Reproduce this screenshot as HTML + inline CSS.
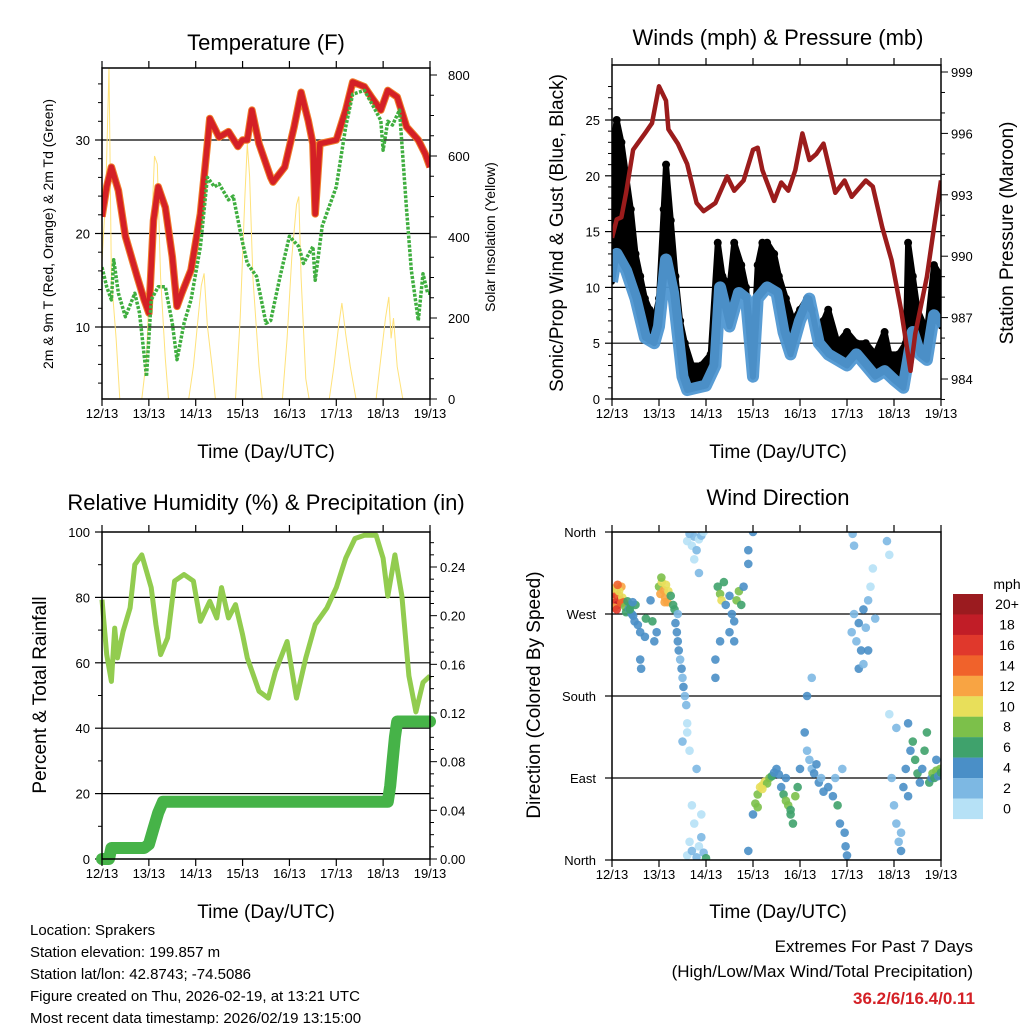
<!DOCTYPE html>
<html><head><meta charset="utf-8"><style>
html,body{margin:0;padding:0;background:#fff;}
svg{display:block;font-family:"Liberation Sans",Arial,sans-serif;}
</style></head><body>
<svg id="root" width="1024" height="1024" viewBox="0 0 1024 1024" xmlns="http://www.w3.org/2000/svg"></svg>
<script>
// ===== Data =====
const dayLabels = ["12/13","13/13","14/13","15/13","16/13","17/13","18/13","19/13"];
// Temperature (F)
const tempT = [0,0.1,0.2,0.35,0.5,0.75,0.9,1.0,1.1,1.2,1.35,1.5,1.6,1.7,1.9,2.1,2.25,2.3,2.5,2.7,2.9,3.0,3.1,3.2,3.35,3.6,3.65,3.9,4.1,4.25,4.4,4.5,4.55,4.65,5.0,5.2,5.35,5.6,5.75,5.95,6.1,6.3,6.5,6.75,6.9,7.0];
const tempV = [21.8,25,27.1,24.6,19.7,15.4,12.9,11.5,21.4,25,22.8,17.5,12.2,13.6,16.1,22.1,29.6,32.3,30.3,30.9,29.3,30,30,33.2,29.6,26,25.5,27.1,31.4,35.1,32.1,29.6,22.1,29.6,30,33.2,36.2,35.7,34.6,33.2,35.3,34.6,31.4,30,28.5,27.1];
const dewT = [0,0.1,0.2,0.25,0.35,0.5,0.7,0.8,0.95,1.05,1.2,1.35,1.5,1.6,1.75,1.9,2.1,2.25,2.4,2.5,2.7,2.8,3.0,3.1,3.3,3.5,3.6,3.8,4.0,4.2,4.3,4.5,4.55,4.7,5.0,5.2,5.35,5.6,5.8,5.95,6.0,6.1,6.2,6.35,6.5,6.6,6.75,6.85,6.95,7.0];
const dewV = [16.4,14.3,12.9,17.2,13.6,11.1,13.6,11.5,4.7,12.9,14.3,14.3,10.4,6.5,10.4,12.9,18.6,26,25,25.3,23.6,24,19,16.8,15.4,10.4,10.7,15.4,19.7,18.6,16.8,18.6,15,20.8,25,31.4,34.9,35.3,33.5,32.1,28.9,32,31.6,33.2,22.5,16.1,10.7,15.7,13.6,13.6];
const solarT = [0,0.08,0.15,0.2,0.3,0.38,0.85,0.95,1.05,1.12,1.18,1.25,1.35,1.42,1.85,1.95,2.05,2.12,2.18,2.25,2.35,2.42,2.85,2.95,3.05,3.1,3.15,3.22,3.35,3.42,3.85,3.95,4.05,4.15,4.2,4.25,4.35,4.42,4.85,4.95,5.05,5.12,5.2,5.3,5.42,5.85,5.95,6.05,6.12,6.17,6.22,6.3,6.42,7.0];
const solarV = [340,500,820,300,150,0,0,100,400,600,580,300,100,0,0,80,200,280,310,180,80,0,0,200,500,630,550,300,80,0,0,150,350,480,500,300,50,0,0,80,180,237,160,80,0,0,100,200,252,150,200,80,0,0];
// Winds & pressure
const presT = [0,0.1,0.2,0.3,0.45,0.7,0.85,1.0,1.15,1.2,1.4,1.6,1.8,1.95,2.2,2.45,2.6,2.8,3.0,3.1,3.2,3.45,3.6,3.75,3.9,4.05,4.2,4.35,4.5,4.75,4.95,5.1,5.4,5.55,5.75,5.95,6.15,6.35,6.45,6.7,6.85,7.0];
const presV = [990.9,991.8,991.9,993.1,995.2,996,996.5,998.3,997.6,996.2,995.5,994.5,992.6,992.2,992.6,993.9,993.2,993.7,995.2,995.3,994.2,992.7,993.6,993.2,994.2,996,994.7,995,995.5,993.1,993.7,992.9,993.7,993.4,991.4,989.8,987.4,984.4,986.2,989,991.4,993.7];
const windT = [0,0.1,0.3,0.5,0.7,0.9,1.0,1.15,1.3,1.5,1.6,1.8,2.0,2.2,2.3,2.5,2.7,2.85,3.0,3.1,3.3,3.5,3.65,3.8,4.0,4.2,4.4,4.6,4.8,5.0,5.2,5.4,5.6,5.8,6.0,6.2,6.4,6.55,6.7,6.85,7.0];
const windV = [10.5,13,11.5,9,5.5,5,6.5,12.5,9.5,2,0.8,1,1.2,3,10,6.5,9.5,9,2,9,10,9.5,6,4,7,9,5,4,3.5,3,4,3,2,2.5,1.7,1,6,4,3.5,7.5,6.5];
const gustT = [0,0.1,0.2,0.3,0.4,0.5,0.6,0.7,0.8,0.9,1.0,1.1,1.15,1.25,1.35,1.45,1.55,1.7,1.9,2.1,2.25,2.35,2.5,2.6,2.75,2.85,3.0,3.1,3.2,3.3,3.45,3.55,3.7,3.85,4.0,4.15,4.25,4.4,4.5,4.6,4.8,5.0,5.2,5.4,5.6,5.8,5.9,6.1,6.25,6.3,6.4,6.5,6.7,6.85,7.0];
const gustV = [22,25,23,20,17,13,11,9,8,7,9,17,21,16,11,7,5,3,3,4,14,11,10,14,12,10,4,12,14,14,13,11,9,7,8,9,8,5,7,8,5,6,5,5,4,6,4,4,5,14,11,8,6,12,11];
// RH & precipitation
const rhT = [0,0.1,0.2,0.27,0.33,0.45,0.6,0.7,0.85,0.95,1.05,1.15,1.25,1.4,1.55,1.75,1.95,2.1,2.3,2.45,2.55,2.7,2.85,3.0,3.1,3.35,3.55,3.7,3.95,4.15,4.35,4.55,4.8,5.0,5.2,5.4,5.6,5.85,6.0,6.1,6.25,6.4,6.55,6.7,6.85,7.0];
const rhV = [79.3,62.5,54.3,70.6,61.5,69.6,76.8,90,93,88,83,71.7,62.5,67.6,85,87,85,72.7,78.8,73.7,83,73.7,77.8,68.6,61.5,51.3,49.2,57.3,66.5,49.2,61.5,71.7,76.8,83,92,98,99,99,92,80.4,93,80.4,56,45,54,56];
const rainT = [0,0.15,0.2,0.9,1.0,1.1,1.2,1.3,6.1,6.15,6.2,6.25,6.3,7.0];
const rainV = [0,0,0.009,0.009,0.012,0.025,0.038,0.047,0.047,0.06,0.08,0.1,0.113,0.113];
// Wind direction
const dirT = [0.02,0.05,0.08,0.1,0.12,0.15,0.18,0.2,0.22,0.25,0.05,0.1,0.15,0.2,0.03,0.12,
0.28,0.3,0.33,0.36,0.4,0.42,0.45,0.48,0.5,0.38,0.44,
0.55,0.6,0.6,0.62,0.7,0.72,0.9,0.95,0.82,0.86,
1.0,1.03,1.06,1.1,1.13,1.15,1.18,1.2,1.05,1.12,1.25,1.3,1.33,
1.35,1.38,1.4,1.42,1.45,1.48,1.5,1.52,1.55,1.58,1.6,1.4,1.5,
1.6,1.65,1.7,1.75,1.8,1.85,1.9,1.95,1.75,1.85,
1.6,1.65,1.7,1.75,1.8,1.85,1.9,1.95,2.0,1.7,1.8,1.9,1.6,1.65,
2.25,2.3,2.33,2.38,2.42,2.5,2.55,2.6,2.65,2.7,2.75,2.8,2.5,2.6,2.3,2.2,2.2,2.9,2.9,3.0,2.9,
3.0,3.05,3.1,3.15,3.2,3.25,3.3,3.35,3.4,3.45,3.5,3.55,3.1,3.2,
3.6,3.65,3.7,3.75,3.8,3.85,3.9,3.95,4.0,3.7,3.8,
4.1,4.15,4.2,4.25,4.3,4.35,4.4,4.45,4.5,4.6,4.7,4.75,4.8,4.85,4.9,4.15,4.25,
4.95,4.97,5.0,
5.1,5.15,5.2,5.25,5.3,5.35,5.4,5.45,5.5,5.55,5.6,5.25,5.35,5.45,
5.12,5.15,5.85,5.9,
5.9,5.95,6.0,6.05,6.1,6.15,6.2,6.25,6.3,6.35,6.4,6.45,6.5,6.55,6.6,6.65,6.7,6.75,6.8,6.05,6.15,6.3,
6.82,6.86,6.9,6.94,6.98,7.0,6.9];
const dirDeg = [287,292,283,296,280,290,285,300,288,283,277,275,295,282,298,302,
278,272,284,276,280,270,268,262,280,275,283,
258,250,220,210,245,265,240,250,285,262,
300,292,305,296,288,302,283,295,310,283,290,280,275,
260,250,240,230,220,210,200,190,180,170,150,270,130,
350,358,345,355,340,352,356,360,330,315,
5,20,10,40,3,15,25,8,2,60,100,50,140,120,
300,292,285,305,280,290,270,262,285,295,280,300,250,240,240,220,200,340,325,360,10,
50,62,72,80,82,86,84,90,92,96,100,94,58,78,
80,72,65,60,50,40,70,80,100,90,55,
140,120,110,100,95,105,85,90,75,80,70,90,60,40,100,180,200,
30,15,5,
250,270,240,260,230,275,255,285,300,320,265,210,215,230,
358,345,350,335,
160,90,60,40,20,10,80,100,70,120,130,110,95,85,100,120,140,85,90,145,30,150,
95,90,98,92,100,96,110];
const dirSpd = [12,16,17,14,18,15,16,13,10,14,12,17,11,15,10,14,
8,6,6,4,6,5,4,4,6,7,5,
4,4,4,4,4,6,4,4,4,6,
8,12,10,12,12,11,12,10,9,13,7,6,6,
4,4,4,4,2,4,2,4,2,2,0,2,2,
0,2,0,2,2,0,2,0,0,2,
0,0,2,0,2,0,2,2,6,0,2,0,0,0,
6,8,10,6,4,4,4,4,8,8,6,4,4,4,4,4,4,4,4,4,4,
4,8,8,10,10,10,8,8,6,4,4,4,8,10,
4,6,8,8,6,6,8,6,4,4,6,
4,2,2,2,4,4,4,2,4,4,4,2,6,4,2,4,2,
4,4,4,
2,2,2,4,4,4,2,2,0,0,2,4,2,4,
2,2,2,0,
0,2,2,2,2,4,4,4,4,4,6,6,6,4,4,6,6,6,4,2,2,4,
8,6,8,4,8,6,4];
const cbarLabels = ["20+","18","16","14","12","10","8","6","4","2","0"];
const cbarColors = ["#9b1b1f","#c11d27","#e0382c","#f0622b","#f8a443","#e8df5a","#7cc04a","#3fa26c","#4a8fc7","#7db8e3","#b6e1f6"];

// ===== Helpers =====
const NS="http://www.w3.org/2000/svg";
const root=document.getElementById('root');
function mk(tag,attrs,parent){const e=document.createElementNS(NS,tag);for(const k in attrs)e.setAttribute(k,attrs[k]);(parent||root).appendChild(e);return e;}
function txt(s,x,y,size,anchor,parent,extra){const e=mk('text',Object.assign({x:x,y:y,'font-size':size,'text-anchor':anchor||'middle',fill:'#000'},extra||{}),parent);e.textContent=s;return e;}
function lin(d0,d1,r0,r1){return v=>r0+(v-d0)/(d1-d0)*(r1-r0);}
function pts(xs,ys,fx,fy){return xs.map((t,i)=>fx(t).toFixed(1)+','+fy(ys[i]).toFixed(1)).join(' ');}

function frame(g,L,T,R,B){
  const r=mk('rect',{x:L,y:T,width:R-L,height:B-T,fill:'none',stroke:'#000','stroke-width':1.5},g);
  
  
}
function xAxis(g,L,R,B,T){
  const fx=lin(0,7,L,R);
  dayLabels.forEach((s,i)=>{
    const x=fx(i);
    mk('line',{x1:x,y1:B,x2:x,y2:B+7,stroke:'#000','stroke-width':1.2},g);
    mk('line',{x1:x,y1:T,x2:x,y2:T-7,stroke:'#000','stroke-width':1.2},g);
    const t=txt(s,x,B+19,13,'middle',g);
    
    
  });
  return fx;
}

// ===== Panel 1: Temperature =====
(function(){
  const g=mk('g',{});
  
  
  const L=102,R=430,T=68,B=399;
  const fx=lin(0,7,L,R), fy=lin(10,30,327,140), fs=lin(0,800,399,75);
  const clip=mk('clipPath',{id:'c1'},g); mk('rect',{x:L,y:T,width:R-L,height:B-T},clip);
  [10,20,30].forEach(v=>{mk('line',{x1:L,y1:fy(v),x2:R,y2:fy(v),stroke:'#000','stroke-width':1.2},g);
    mk('line',{x1:L,y1:fy(v),x2:L-7,y2:fy(v),stroke:'#000','stroke-width':1.2},g);
    txt(String(v),L-12,fy(v)+5,13,'end',g);});
  for(let v=4;v<=36;v+=2){if(v%10)mk('line',{x1:L,y1:fy(v),x2:L-4,y2:fy(v),stroke:'#000','stroke-width':1},g);}
  for(let v=0;v<=800;v+=50){const maj=v%200===0;mk('line',{x1:R,y1:fs(v),x2:R+(maj?7:4),y2:fs(v),stroke:'#000','stroke-width':1},g);
    if(maj)txt(String(v),R+18,fs(v)+5,13,'start',g);}
  const d=mk('g',{'clip-path':'url(#c1)'},g);
  const s=mk('polyline',{points:pts(solarT,solarV,fx,fs),fill:'none',stroke:'#ffe27a','stroke-width':1},d);
   
  const o=mk('polyline',{points:pts(tempT,tempV,fx,fy),fill:'none',stroke:'#f07c2a','stroke-width':7.5,'stroke-linejoin':'round'},d);
   
  const r=mk('polyline',{points:pts(tempT,tempV,fx,fy),fill:'none',stroke:'#d42026','stroke-width':5.5,'stroke-linejoin':'round'},d);
   
  const gr=mk('polyline',{points:pts(dewT,dewV,fx,fy),fill:'none',stroke:'#3fae3f','stroke-width':3.5,'stroke-dasharray':'3 1.5','stroke-linejoin':'round'},d);
   
  frame(g,L,T,R,B); xAxis(g,L,R,B,T);
  const t1=txt('Temperature (F)',266,50,22,'middle',g);  
  const t2=txt('Time (Day/UTC)',266,458,19,'middle',g);  
  const t3=txt('2m & 9m T (Red, Orange) & 2m Td (Green)',0,0,14,'middle',g,{transform:'translate(53,234) rotate(-90)'});  
  const t4=txt('Solar Insolation (Yellow)',0,0,14,'middle',g,{transform:'translate(495,237) rotate(-90)'});  
})();

// ===== Panel 2: Winds =====
(function(){
  const g=mk('g',{});
  
  
  const L=612,R=941,T=65,B=399;
  const fx=lin(0,7,L,R), fy=lin(0,25,399,120), fp=lin(984,999,379,72);
  const clip=mk('clipPath',{id:'c2'},g); mk('rect',{x:L,y:T,width:R-L,height:B-T},clip);
  [0,5,10,15,20,25].forEach(v=>{if(v)mk('line',{x1:L,y1:fy(v),x2:R,y2:fy(v),stroke:'#000','stroke-width':1.2},g);
    mk('line',{x1:L,y1:fy(v),x2:L-7,y2:fy(v),stroke:'#000','stroke-width':1.2},g);
    txt(String(v),L-12,fy(v)+5,13,'end',g);});
  for(let v=1;v<29;v++){if(v%5)mk('line',{x1:L,y1:fy(v),x2:L-4,y2:fy(v),stroke:'#000','stroke-width':1},g);}
  for(let v=983;v<=999;v++){const maj=(v-984)%3===0;mk('line',{x1:R,y1:fp(v),x2:R+(maj?7:4),y2:fp(v),stroke:'#000','stroke-width':1},g);
    if(maj)txt(String(v),R+10,fp(v)+5,13,'start',g);}
  const d=mk('g',{'clip-path':'url(#c2)'},g);
  const band=pts(gustT,gustV,fx,fy)+' '+windT.slice().reverse().map((t,i)=>fx(t).toFixed(1)+','+fy(windV[windV.length-1-i]).toFixed(1)).join(' ');
  const bl=mk('polygon',{points:band,fill:'#000',stroke:'#000','stroke-width':6,'stroke-linejoin':'round'},d);
   
  gustT.forEach((t,i)=>{const c=mk('circle',{cx:fx(t),cy:fy(gustV[i]),r:4,fill:'#000'},d);
    
    });
  const w=mk('polyline',{points:pts(windT,windV,fx,fy),fill:'none',stroke:'#4f97d2','stroke-width':12,'stroke-linejoin':'round','opacity':0.95},d);
   
  const p=mk('polyline',{points:pts(presT,presV,fx,fp),fill:'none',stroke:'#9b1c1c','stroke-width':4.5,'stroke-linejoin':'round'},d);
   
  frame(g,L,T,R,B); xAxis(g,L,R,B,T);
  const t1=txt('Winds (mph) & Pressure (mb)',778,45,22,'middle',g);  
  const t2=txt('Time (Day/UTC)',778,458,19,'middle',g);  
  const t3=txt('Sonic/Prop Wind & Gust (Blue, Black)',0,0,19,'middle',g,{transform:'translate(563,233) rotate(-90)'});  
  const t4=txt('Station Pressure (Maroon)',0,0,19,'middle',g,{transform:'translate(1013,233) rotate(-90)'});  
})();

// ===== Panel 3: RH =====
(function(){
  const g=mk('g',{});
  
  
  const L=102,R=430,T=532,B=859;
  const fx=lin(0,7,L,R), fy=lin(0,100,859,532), fr=lin(0,0.24,859,567);
  const clip=mk('clipPath',{id:'c3'},g); mk('rect',{x:L-12,y:T,width:R-L+24,height:B-T+12},clip);
  [0,20,40,60,80,100].forEach(v=>{if(v&&v<100)mk('line',{x1:L,y1:fy(v),x2:R,y2:fy(v),stroke:'#000','stroke-width':1.2},g);
    mk('line',{x1:L,y1:fy(v),x2:L-7,y2:fy(v),stroke:'#000','stroke-width':1.2},g);
    txt(String(v),L-12,fy(v)+5,13,'end',g);});
  for(let v=10;v<100;v+=20)mk('line',{x1:L,y1:fy(v),x2:L-4,y2:fy(v),stroke:'#000','stroke-width':1},g);
  for(let k=0;k<=26;k++){const v=k*0.01;const maj=k%4===0;mk('line',{x1:R,y1:fr(v),x2:R+(maj?7:4),y2:fr(v),stroke:'#000','stroke-width':1},g);
    if(maj)txt(v.toFixed(2),R+10,fr(v)+5,13,'start',g);}
  const d=mk('g',{'clip-path':'url(#c3)'},g);
  const h=mk('polyline',{points:pts(rhT,rhV,fx,fy),fill:'none',stroke:'#92cc4f','stroke-width':5,'stroke-linejoin':'round'},d);
   
  const p=mk('polyline',{points:pts(rainT,rainV,fx,fr),fill:'none',stroke:'#46b348','stroke-width':12,'stroke-linejoin':'round','stroke-linecap':'round'},d);
   
  frame(g,L,T,R,B); xAxis(g,L,R,B,T);
  const t1=txt('Relative Humidity (%) & Precipitation (in)',266,510,22,'middle',g);  
  const t2=txt('Time (Day/UTC)',266,918,19,'middle',g);  
  const t3=txt('Percent & Total Rainfall',0,0,19,'middle',g,{transform:'translate(46,695) rotate(-90)'});  
})();

// ===== Panel 4: Wind direction =====
(function(){
  const g=mk('g',{});
  
  
  const L=612,R=941,T=532,B=860;
  const fx=lin(0,7,L,R), fy=lin(0,360,860,532);
  const clip=mk('clipPath',{id:'c4'},g); mk('rect',{x:L,y:T,width:R-L,height:B-T},clip);
  const names=['North','East','South','West','North'];
  names.forEach((s,i)=>{const y=fy(i*90);if(i>0&&i<4)mk('line',{x1:L,y1:y,x2:R,y2:y,stroke:'#000','stroke-width':1.2},g);
    mk('line',{x1:L,y1:y,x2:L-7,y2:y,stroke:'#000','stroke-width':1.2},g);
    txt(s,L-16,y+5,13,'end',g);});
  const d=mk('g',{'clip-path':'url(#c4)'},g);
  dirT.forEach((t,i)=>{const idx=10-Math.min(10,Math.floor(dirSpd[i]/2));
    const c=mk('circle',{cx:fx(t),cy:fy(dirDeg[i]),r:4.3,fill:cbarColors[idx],opacity:0.9},d);
    
    });
  frame(g,L,T,R,B); xAxis(g,L,R,B,T);
  const t1=txt('Wind Direction',778,505,22,'middle',g);  
  const t2=txt('Time (Day/UTC)',778,918,19,'middle',g);  
  const t3=txt('Direction (Colored By Speed)',0,0,19,'middle',g,{transform:'translate(540,695) rotate(-90)'});  
  const cb=mk('g',{},g);  
  const u=txt('mph',1007,589,14,'middle',cb);  
  cbarColors.forEach((c,i)=>{const y=594+i*20.45;
    mk('rect',{x:953,y:y,width:30,height:20.6,fill:c},cb);
    const l=txt(cbarLabels[i],1007,y+15,14,'middle',cb);
    
    });
})();

// ===== Footer =====
(function(){
  const g=mk('g',{});
  
  
  ['Location: Sprakers','Station elevation: 199.857 m','Station lat/lon: 42.8743; -74.5086','Figure created on Thu, 2026-02-19, at 13:21 UTC','Most recent data timestamp: 2026/02/19 13:15:00'].forEach((s,i)=>txt(s,30,935+i*22,15,'start',g));
  const e=mk('g',{});
  
  
  txt('Extremes For Past 7 Days',973,952,17,'end',e);
  txt('(High/Low/Max Wind/Total Precipitation)',973,977,17,'end',e);
  const v=txt('36.2/6/16.4/0.11',975,1004,17,'end',e,{fill:'#d42026','font-weight':'bold'});
   
})();
</script>
</body></html>
